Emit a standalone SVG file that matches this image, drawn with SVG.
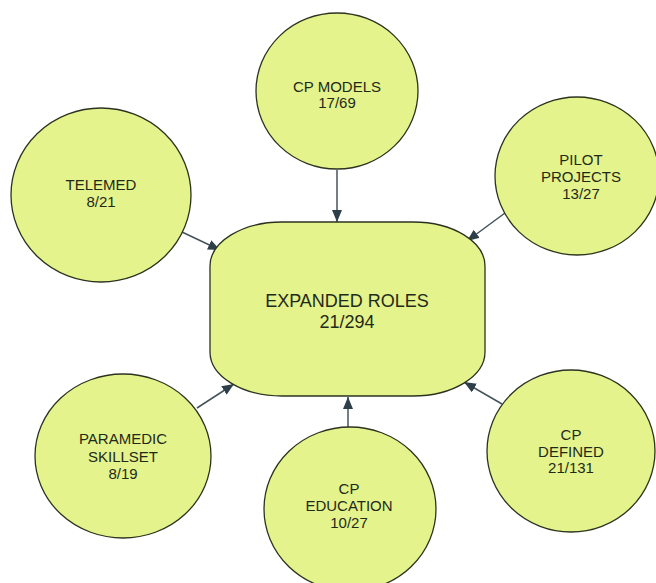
<svg xmlns="http://www.w3.org/2000/svg" width="656" height="583" viewBox="0 0 656 583">
  <style>
    .node { fill: #e4f38b; stroke: #2b3320; stroke-width: 1.3; }
    .label { font-family: "Liberation Sans", Arial, sans-serif; font-size: 15px; fill: #1f2a1a; text-anchor: middle; }
    .big { font-size: 18px; }
    .edge { stroke: #44535c; stroke-width: 1.5; fill: none; marker-end: url(#arrow); }
  </style>
  <defs>
    <marker id="arrow" viewBox="0 0 12 10" refX="12" refY="5" markerWidth="12" markerHeight="10" markerUnits="userSpaceOnUse" orient="auto">
      <path d="M0,0 L12,5 L0,10 Z" fill="#2f3f4a"/>
    </marker>
  </defs>
  <rect width="656" height="583" fill="#ffffff"/>

  <g id="connectors">
    <line class="edge" x1="337" y1="170" x2="337" y2="222"/>
    <line class="edge" x1="182" y1="232" x2="220" y2="250"/>
    <line class="edge" x1="505" y1="213" x2="467" y2="241"/>
    <line class="edge" x1="197" y1="408" x2="234" y2="384"/>
    <line class="edge" x1="348" y1="427" x2="348" y2="397"/>
    <line class="edge" x1="502" y1="404" x2="464" y2="382"/>
  </g>

  <g id="expanded-roles">
    <rect class="node" x="210" y="222" width="275" height="174" rx="72" ry="44"/>
    <text class="label big" x="347" y="307">EXPANDED ROLES</text>
    <text class="label big" x="347" y="328">21/294</text>
  </g>

  <g id="cp-models">
    <ellipse class="node" cx="337" cy="91" rx="81" ry="78"/>
    <text class="label" x="337" y="92">CP MODELS</text>
    <text class="label" x="337" y="108">17/69</text>
  </g>

  <g id="telemed">
    <ellipse class="node" cx="101" cy="195" rx="90" ry="87"/>
    <text class="label" x="101" y="190">TELEMED</text>
    <text class="label" x="101" y="207">8/21</text>
  </g>

  <g id="pilot-projects">
    <ellipse class="node" cx="577" cy="176" rx="82" ry="79"/>
    <text class="label" x="581" y="165">PILOT</text>
    <text class="label" x="581" y="182">PROJECTS</text>
    <text class="label" x="581" y="199">13/27</text>
  </g>

  <g id="paramedic-skillset">
    <ellipse class="node" cx="123" cy="456" rx="88" ry="82"/>
    <text class="label" x="123" y="444">PARAMEDIC</text>
    <text class="label" x="123" y="462">SKILLSET</text>
    <text class="label" x="123" y="479">8/19</text>
  </g>

  <g id="cp-education">
    <ellipse class="node" cx="350" cy="509" rx="86" ry="82"/>
    <text class="label" x="349" y="494">CP</text>
    <text class="label" x="349" y="511">EDUCATION</text>
    <text class="label" x="349" y="528">10/27</text>
  </g>

  <g id="cp-defined">
    <ellipse class="node" cx="571" cy="451" rx="84" ry="81"/>
    <text class="label" x="571" y="440">CP</text>
    <text class="label" x="571" y="457">DEFINED</text>
    <text class="label" x="571" y="473">21/131</text>
  </g>
</svg>
